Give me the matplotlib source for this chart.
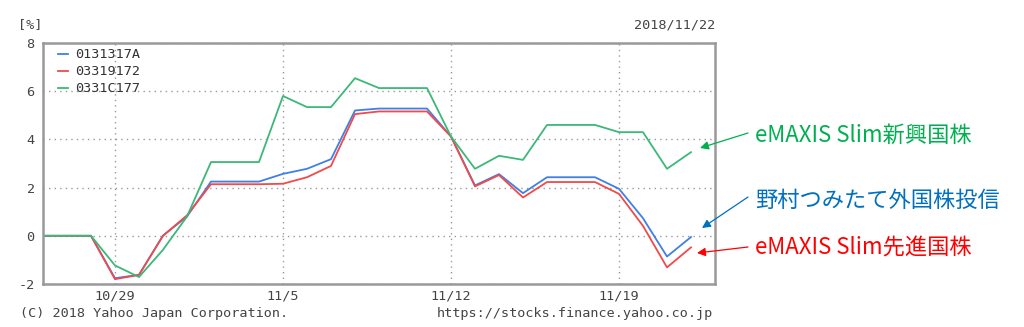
import matplotlib
matplotlib.use("Agg")
import matplotlib.pyplot as plt
import pandas as pd

dates = pd.date_range("2018-10-26", "2018-11-22", freq="D")
series_names = ["0131317A", "03319172", "0331C177"]
blue = [0, 0, 0, -1.76, -1.62, 0.01, 0.80, 2.25, 2.25, 2.25, 2.57, 2.78, 3.18,
        5.20, 5.28, 5.28, 5.28, 4.12, 2.09, 2.56, 1.77, 2.43, 2.43, 2.43, 1.95,
        0.73, -0.86, -0.05]
red = [0, 0, 0, -1.80, -1.62, 0.00, 0.85, 2.14, 2.14, 2.14, 2.16, 2.43, 2.90,
       5.05, 5.16, 5.16, 5.16, 4.12, 2.05, 2.52, 1.59, 2.23, 2.23, 2.23, 1.74,
       0.41, -1.31, -0.48]
green = [0, 0, 0, -1.23, -1.71, -0.58, 0.80, 3.06, 3.06, 3.06, 5.80, 5.34, 5.34,
         6.54, 6.13, 6.13, 6.13, 4.12, 2.78, 3.32, 3.15, 4.60, 4.60, 4.60, 4.30,
         4.30, 2.78, 3.47]
xtick_dates = ["2018-10-29", "2018-11-05", "2018-11-12", "2018-11-19"]
xtick_labels = ["10/29", "11/5", "11/12", "11/19"]
yticks = [-2, 0, 2, 4, 6, 8]
annot_labels = ["eMAXIS Slim新興国株", "野村つみたて外国株投信", "eMAXIS Slim先進国株"]

colors = ["#3f7fe8", "#f04a4a", "#3cb878"]
annot_colors = ["#00b050", "#0070c0", "#ff0000"]

W, H = 1024, 327
fig = plt.figure(figsize=(W / 100, H / 100), dpi=100)
ax = fig.add_axes([43 / W, (H - 284) / H, (715 - 43) / W, (284 - 43) / H])

mono = "DejaVu Sans Mono"
tc = "#444444"
for vals, c, name in zip([blue, red, green], colors, series_names):
    ax.plot(dates, vals, color=c, lw=1.3, label=name)

ax.set_xlim(pd.Timestamp("2018-10-26"), pd.Timestamp("2018-11-23"))
ax.set_ylim(-2, 8)
ax.set_yticks(yticks)
ax.set_yticklabels([str(v) for v in yticks], fontfamily=mono, fontsize=9.7, color=tc)
ax.set_xticks(pd.to_datetime(xtick_dates))
ax.set_xticklabels(xtick_labels, fontfamily=mono, fontsize=9.7, color=tc)
ax.tick_params(axis="both", length=0, pad=4)
ax.tick_params(axis="y", pad=6)
ax.grid(True, color="#999999", linestyle=(0, (1, 3)), lw=1.0)
for s in ax.spines.values():
    s.set_color("#999999")
    s.set_linewidth(1.8)

leg = ax.legend(loc="upper left", bbox_to_anchor=(10 / 672, 1.0), frameon=False,
                handlelength=0.75, handletextpad=0.5,
                labelspacing=0.3, borderaxespad=0.2, borderpad=0.2,
                prop={"family": mono, "size": 9.7})
for t in leg.get_texts():
    t.set_color("#333333")

fig.text(18 / W, (H - 25) / H, "[%]", fontfamily=mono, fontsize=9.7, color=tc, va="center")
fig.text(715 / W, (H - 25) / H, "2018/11/22", fontfamily=mono, fontsize=9.7, color=tc,
         va="center", ha="right")
fig.text(20 / W, (H - 313) / H, "(C) 2018 Yahoo Japan Corporation.", fontfamily=mono,
         fontsize=9.7, color=tc, va="center")
fig.text(713 / W, (H - 313) / H, "https://stocks.finance.yahoo.co.jp", fontfamily=mono,
         fontsize=9.7, color=tc, va="center", ha="right")

text_pos = [(755, 135), (755, 200), (755, 248)]
arrow_start = [(748, 133), (748, 197), (748, 247)]
arrow_end = [(700, 148), (702, 228), (697, 253)]
for lab, c, tp, a0, a1 in zip(annot_labels, annot_colors, text_pos, arrow_start, arrow_end):
    fig.text(tp[0] / W, (H - tp[1]) / H, lab, color=c, fontsize=16,
             family=["Noto Sans CJK JP", "DejaVu Sans"], va="center", ha="left")
    fig.add_artist(matplotlib.patches.FancyArrowPatch(
        (a0[0], H - a0[1]), (a1[0], H - a1[1]), transform=None,
        arrowstyle="-|>,head_length=5,head_width=2.5", color=c, lw=0.9,
        shrinkA=0, shrinkB=0))

fig.savefig("out.png", dpi=100, facecolor="white")
